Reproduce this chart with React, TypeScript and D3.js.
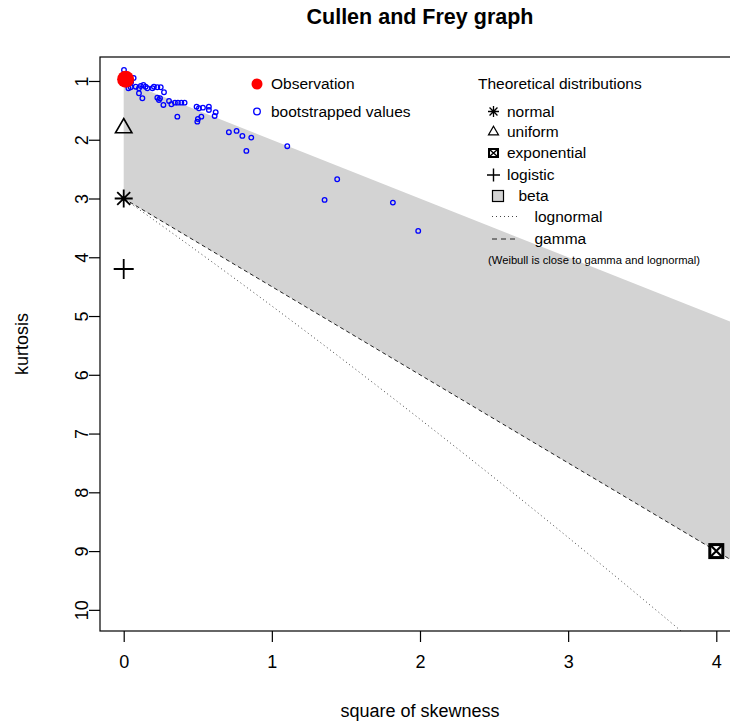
import { useEffect, useRef } from "react";
import { select, scaleLinear, line, area, axisBottom, axisLeft, curveCatmullRom } from "d3";

// observed sample
const obsSkew2 = 0.013;
const obsKurt = 0.97;

// bootstrapped (square of skewness, kurtosis) pairs
const bootSkew2 = [
  0.002, 0.067, 0.032, 0.047, 0.081, 0.115, 0.133, 0.148, 0.103, 0.16, 0.194, 0.204,
  0.227, 0.25, 0.272, 0.103, 0.126, 0.227, 0.245, 0.238, 0.268, 0.306, 0.322, 0.346,
  0.366, 0.389, 0.411, 0.362, 0.492, 0.508, 0.535, 0.575, 0.575, 0.621, 0.614, 0.524,
  0.501, 0.497, 0.71, 0.762, 0.801, 0.861, 0.828, 1.104, 1.441, 1.356, 1.817, 1.988,
  0.02, 0.05,
];
const bootKurt = [
  0.813, 0.949, 1.124, 1.107, 1.097, 1.085, 1.068, 1.097, 1.124, 1.124, 1.124, 1.097,
  1.107, 1.107, 1.192, 1.209, 1.294, 1.284, 1.294, 1.323, 1.408, 1.34, 1.396, 1.369,
  1.369, 1.369, 1.369, 1.607, 1.437, 1.464, 1.454, 1.437, 1.493, 1.532, 1.595, 1.607,
  1.646, 1.692, 1.872, 1.85, 1.935, 1.964, 2.19, 2.11, 2.672, 3.024, 3.07, 3.551,
  0.93, 1.02,
];

// theoretical distributions (point ones)
const normalPt = [0, 3];
const uniformPt = [0, 1.8];
const exponentialPt = [4, 9];
const logisticPt = [0, 4.2];

// lines
const lnormSkew2 = [0, 0.182, 0.465, 0.961, 1.488, 2.048, 2.641, 3.267, 3.928];
const lnormKurt = [3, 3.326, 3.838, 4.756, 5.758, 6.85, 8.035, 9.32, 10.71];
const gammaSkew2 = [0, 4.3];
const gammaKurt = [3, 9.45];
const betaUpperKurt = [1, 5.3]; // along gammaSkew2

const xTicks = [0, 1, 2, 3, 4];
const yTicks = [1, 2, 3, 4, 5, 6, 7, 8, 9, 10];

const legendObs = ["Observation", "bootstrapped values"];
const legendTheo = ["normal", "uniform", "exponential", "logistic", "beta", "lognormal", "gamma"];

const font = "'Liberation Sans', Arial, Helvetica, sans-serif";

const plusPath = (h: number) => `M${-h},0H${h}M0,${-h}V${h}`;
const timesPath = (h: number) => {
  const d = h * 0.72;
  return `M${-d},${-d}L${d},${d}M${-d},${d}L${d},${-d}`;
};
const triPath = (r: number) =>
  `M0,${-r}L${r * 0.866},${r * 0.5}L${-r * 0.866},${r * 0.5}Z`;

export default function App() {
  const ref = useRef<SVGSVGElement>(null);

  useEffect(() => {
    const svg = select(ref.current);
    svg.selectAll("*").remove();

    const left = 100, top = 57, right = 740, bottom = 631;
    const x = scaleLinear().domain([-0.16, 4.16]).range([left, right]);
    const y = scaleLinear().domain([0.592, 10.36]).range([top, bottom]);

    svg.append("defs").append("clipPath").attr("id", "plotClip")
      .append("rect").attr("x", left).attr("y", top)
      .attr("width", right - left).attr("height", bottom - top);

    const plot = svg.append("g").attr("clip-path", "url(#plotClip)");

    // beta region
    const idx = gammaSkew2.map((_, i) => i);
    plot.append("path")
      .datum(idx)
      .attr("fill", "#d3d3d3")
      .attr("d", area<number>()
        .x((i) => x(gammaSkew2[i]))
        .y0((i) => y(betaUpperKurt[i]))
        .y1((i) => y(gammaKurt[i])));

    // lognormal
    plot.append("path")
      .datum(lnormSkew2.map((_, i) => i))
      .attr("fill", "none")
      .attr("stroke", "#444")
      .attr("stroke-width", 1)
      .attr("stroke-dasharray", "1 3")
      .attr("d", line<number>().x((i) => x(lnormSkew2[i])).y((i) => y(lnormKurt[i])).curve(curveCatmullRom));

    // gamma
    plot.append("path")
      .datum(idx)
      .attr("fill", "none")
      .attr("stroke", "#222")
      .attr("stroke-width", 1)
      .attr("stroke-dasharray", "4 3")
      .attr("d", line<number>().x((i) => x(gammaSkew2[i])).y((i) => y(gammaKurt[i])));

    // bootstrapped values
    plot.selectAll("circle.boot")
      .data(bootSkew2.map((_, i) => i))
      .join("circle")
      .attr("class", "boot")
      .attr("cx", (i) => x(bootSkew2[i]))
      .attr("cy", (i) => y(bootKurt[i]))
      .attr("r", 2.3)
      .attr("fill", "none")
      .attr("stroke", "#0000ff")
      .attr("stroke-width", 1.3);

    // observation
    plot.append("circle")
      .attr("cx", x(obsSkew2)).attr("cy", y(obsKurt))
      .attr("r", 8.5).attr("fill", "#ff0000");

    // theoretical points
    const mark = (pt: number[]) =>
      plot.append("g").attr("transform", `translate(${x(pt[0])},${y(pt[1])})`);
    mark(normalPt).append("path").attr("d", plusPath(9) + timesPath(9))
      .attr("stroke", "#000").attr("stroke-width", 1.8).attr("fill", "none");
    mark(uniformPt).append("path").attr("d", triPath(9.5))
      .attr("stroke", "#000").attr("stroke-width", 1.6).attr("fill", "none");
    mark(logisticPt).append("path").attr("d", plusPath(10))
      .attr("stroke", "#000").attr("stroke-width", 1.8).attr("fill", "none");
    const ex = mark(exponentialPt);
    ex.append("rect").attr("x", -6.5).attr("y", -6.5).attr("width", 13).attr("height", 13)
      .attr("fill", "#fff").attr("stroke", "#000").attr("stroke-width", 3);
    ex.append("path").attr("d", "M-6,-6L6,6M-6,6L6,-6")
      .attr("stroke", "#000").attr("stroke-width", 2.2);

    // box
    svg.append("rect")
      .attr("x", left).attr("y", top)
      .attr("width", right - left).attr("height", bottom - top)
      .attr("fill", "none").attr("stroke", "#000").attr("stroke-width", 1.2);

    // axes
    const gx = svg.append("g")
      .attr("transform", `translate(0,${bottom})`)
      .call(axisBottom(x).tickValues(xTicks).tickSize(11).tickPadding(13).tickFormat((d) => String(d)));
    gx.select(".domain").remove();
    gx.selectAll("text").attr("font-size", 18).attr("font-family", font).attr("fill", "#000");
    gx.selectAll("line").attr("stroke", "#000").attr("stroke-width", 1.2);

    const gy = svg.append("g")
      .attr("transform", `translate(${left},0)`)
      .call(axisLeft(y).tickValues(yTicks).tickSize(11).tickFormat((d) => String(d)));
    gy.select(".domain").remove();
    gy.selectAll("line").attr("stroke", "#000").attr("stroke-width", 1.2);
    gy.selectAll("text")
      .attr("transform", "rotate(-90)")
      .attr("x", 0)
      .attr("y", -18)
      .attr("dy", "0.35em")
      .attr("text-anchor", "middle")
      .attr("font-size", 18).attr("font-family", font).attr("fill", "#000");

    // titles
    svg.append("text")
      .attr("x", 420).attr("y", 16).attr("dy", "0.35em")
      .attr("text-anchor", "middle")
      .attr("font-family", font).attr("font-size", 21.5).attr("font-weight", "bold")
      .text("Cullen and Frey graph");
    svg.append("text")
      .attr("x", 420).attr("y", 711).attr("dy", "0.35em")
      .attr("text-anchor", "middle")
      .attr("font-family", font).attr("font-size", 18)
      .text("square of skewness");
    svg.append("text")
      .attr("transform", `translate(22,${(top + bottom) / 2}) rotate(-90)`)
      .attr("dy", "0.35em")
      .attr("text-anchor", "middle")
      .attr("font-family", font).attr("font-size", 18)
      .text("kurtosis");

    // legend: observation
    const lg = svg.append("g").attr("font-family", font).attr("font-size", 15.5);
    lg.append("circle").attr("cx", 257).attr("cy", 84).attr("r", 5.5).attr("fill", "#ff0000");
    lg.append("circle").attr("cx", 257).attr("cy", 111.5).attr("r", 3.3)
      .attr("fill", "none").attr("stroke", "#0000ff").attr("stroke-width", 1.3);
    legendObs.forEach((t, i) => {
      lg.append("text").attr("x", 271).attr("y", i === 0 ? 84 : 111.5).attr("dy", "0.35em").text(t);
    });

    // legend: theoretical distributions
    lg.append("text").attr("x", 478).attr("y", 84).attr("dy", "0.35em").text("Theoretical distributions");
    const rowY = [111.5, 132, 153, 175, 196, 216.5, 239];
    const sym = (i: number) => lg.append("g").attr("transform", `translate(493.5,${rowY[i]})`);
    sym(0).append("path").attr("d", plusPath(5.5) + timesPath(5.5))
      .attr("stroke", "#000").attr("stroke-width", 1.3).attr("fill", "none");
    sym(1).append("path").attr("d", triPath(5.8))
      .attr("stroke", "#000").attr("stroke-width", 1.2).attr("fill", "none");
    const s2 = sym(2);
    s2.append("rect").attr("x", -4.5).attr("y", -4).attr("width", 9).attr("height", 8)
      .attr("fill", "#fff").attr("stroke", "#000").attr("stroke-width", 2);
    s2.append("path").attr("d", "M-4,-3.5L4,3.5M-4,3.5L4,-3.5")
      .attr("stroke", "#000").attr("stroke-width", 1.4);
    sym(3).append("path").attr("d", plusPath(6.5))
      .attr("stroke", "#000").attr("stroke-width", 1.4).attr("fill", "none");
    lg.append("rect").attr("x", 492.5).attr("y", rowY[4] - 5.5).attr("width", 11).attr("height", 11)
      .attr("fill", "#d3d3d3").attr("stroke", "#000").attr("stroke-width", 1.2);
    lg.append("line").attr("x1", 492).attr("x2", 518).attr("y1", rowY[5]).attr("y2", rowY[5])
      .attr("stroke", "#444").attr("stroke-dasharray", "1 3");
    lg.append("line").attr("x1", 492).attr("x2", 518).attr("y1", rowY[6]).attr("y2", rowY[6])
      .attr("stroke", "#222").attr("stroke-dasharray", "5 4");
    const textX = [507, 507, 507, 507, 518.5, 534.5, 534.5];
    legendTheo.forEach((t, i) => {
      lg.append("text").attr("x", textX[i]).attr("y", rowY[i]).attr("dy", "0.35em").text(t);
    });
    lg.append("text").attr("x", 488).attr("y", 260).attr("dy", "0.35em")
      .attr("font-size", 11).attr("textLength", 212).attr("lengthAdjust", "spacingAndGlyphs")
      .text("(Weibull is close to gamma and lognormal)");
  }, []);

  return (
    <svg
      ref={ref}
      width={730}
      height={723}
      style={{ position: "absolute", left: 0, top: 0, background: "#fff" }}
    />
  );
}
